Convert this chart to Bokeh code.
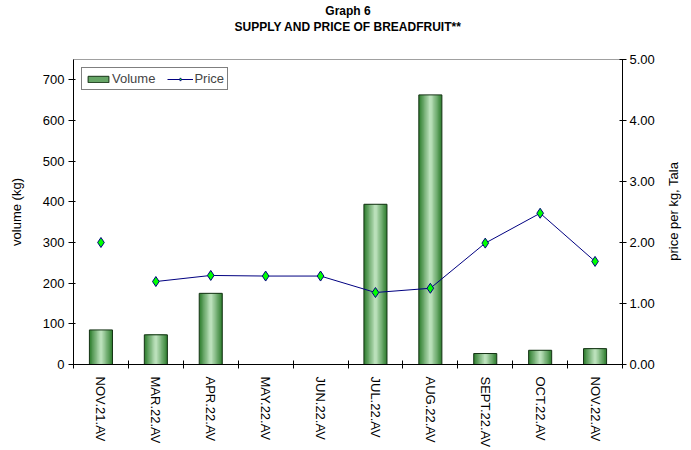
import numpy as np
from bokeh.plotting import figure
from bokeh.models import (Range1d, LinearAxis, FixedTicker, Title, Legend,
                          LegendItem, NumeralTickFormatter)
from bokeh.embed import file_html
from bokeh.resources import INLINE

# ---- data ----
months = ["NOV.21.AV", "MAR.22.AV", "APR.22.AV", "MAY.22.AV", "JUN.22.AV",
          "JUL.22.AV", "AUG.22.AV", "SEPT.22.AV", "OCT.22.AV", "NOV.22.AV"]
volume = [85, 73, 175, 0, 0, 394, 663, 27, 35, 39]
price = [2.00, 1.36, 1.46, 1.45, 1.45, 1.18, 1.25, 1.99, 2.48, 1.69]
volume_ticks = [0, 100, 200, 300, 400, 500, 600, 700]
price_ticks = [0, 1, 2, 3, 4, 5]

FONT = "Liberation Sans"
FS = "13px"
TFS = "12px"

n = len(months)
x = np.arange(n) + 0.5

p = figure(width=691, height=450, output_backend="svg", toolbar_location=None,
           x_range=Range1d(0, n), y_range=Range1d(0, 750),
           min_border_left=73, min_border_right=63, min_border_top=59,
           min_border_bottom=86)
p.background_fill_color = "white"
p.border_fill_color = "white"
p.outline_line_color = "#a0a0a0"
p.xgrid.visible = False
p.ygrid.visible = False

# titles
p.title.text = "Graph 6"
p.title.align = "center"
p.title.offset = 23
p.title.text_font = FONT
p.title.text_font_size = TFS
p.title.text_font_style = "bold"
p.title.text_color = "black"
p.title.standoff = 0
spacer = Title(text=" ", text_font_size="1px", standoff=23)
p.add_layout(spacer, "above")
t2 = Title(text="SUPPLY AND PRICE OF BREADFRUIT**", align="center", offset=23,
           text_font=FONT, text_font_size=TFS, text_font_style="bold",
           text_color="black", standoff=0)
p.add_layout(t2, "above")

# x axis
xa = p.xaxis[0]
xa.ticker = FixedTicker(ticks=list(x), minor_ticks=list(range(n + 1)))
xa.major_label_overrides = {float(xi): m for xi, m in zip(x, months)}
xa.major_tick_in = 0
xa.major_tick_out = 0
xa.minor_tick_in = 4
xa.minor_tick_out = 4
xa.minor_tick_line_color = "black"
xa.axis_line_color = "black"
xa.major_label_orientation = "vertical"
xa.major_label_text_font = FONT
xa.major_label_text_font_size = FS
xa.major_label_text_color = "black"
xa.major_label_standoff = 8

# left axis
ya = p.yaxis[0]
ya.ticker = FixedTicker(ticks=volume_ticks)
ya.axis_label = "volume (kg)"
ya.axis_label_text_font = FONT
ya.axis_label_text_font_size = FS
ya.axis_label_text_font_style = "normal"
ya.axis_label_text_color = "black"
ya.axis_label_standoff = 16
ya.major_label_text_font = FONT
ya.major_label_text_font_size = FS
ya.major_label_text_color = "black"
ya.major_tick_in = 2
ya.major_tick_out = 5
ya.minor_tick_line_color = None
ya.axis_line_color = "black"
ya.major_label_standoff = 4

# right axis
p.extra_y_ranges = {"price": Range1d(0, 5)}
ra = LinearAxis(y_range_name="price", ticker=FixedTicker(ticks=price_ticks),
                formatter=NumeralTickFormatter(format="0.00"))
ra.major_label_text_font = FONT
ra.major_label_text_font_size = FS
ra.major_label_text_color = "black"
ra.major_tick_in = 3
ra.major_tick_out = 4
ra.minor_tick_line_color = None
ra.axis_line_color = "black"
ra.major_label_standoff = 3
p.add_layout(ra, "right")

# right axis title (reads bottom-to-top), drawn as the single label of an
# outer, line-less axis so that it is not clipped
RIGHT_TITLE = "price per kg, Tala"
title_anchor = 1.70
rt = LinearAxis(y_range_name="price", ticker=FixedTicker(ticks=[title_anchor]),
                major_label_overrides={title_anchor: RIGHT_TITLE})
rt.major_label_orientation = np.pi / 2
rt.major_label_text_font = FONT
rt.major_label_text_font_size = FS
rt.major_label_text_color = "black"
rt.major_tick_in = 0
rt.major_tick_out = 0
rt.minor_tick_line_color = None
rt.axis_line_color = None
rt.major_label_standoff = 16
p.add_layout(rt, "right")

# bars with simulated gradient
layers = 9
widths = np.linspace(0.42, 0.05, layers)
dark = np.array([52, 130, 52])
light = np.array([186, 224, 186])
bar_renderers = []
for i, w in enumerate(widths):
    t = i / (layers - 1)
    c = tuple(int(v) for v in dark + (light - dark) * t)
    r = p.vbar(x=x, top=volume, bottom=0, width=w,
               fill_color="#%02x%02x%02x" % c, line_color=None)
    bar_renderers.append(r)
outline = p.vbar(x=x, top=volume, bottom=0, width=0.42, fill_color=None,
                 line_color="#143214", line_width=1)

# price line & markers
line = p.line(x[1:], price[1:], y_range_name="price", line_color="#000080",
              line_width=1)
pts = p.scatter(x, price, y_range_name="price", marker="diamond", size=10,
                fill_color="#00ff00", line_color="#000080", line_width=1)

legend = Legend(items=[
    LegendItem(label="Volume", renderers=[bar_renderers[3], outline]),
    LegendItem(label="Price", renderers=[line, pts]),
], location="top_left", orientation="horizontal")
legend.margin = 8
legend.border_line_color = "black"
legend.border_line_width = 1
legend.label_text_font = FONT
legend.label_text_font_size = FS
legend.glyph_width = 26
legend.glyph_height = 8
legend.padding = 3
legend.spacing = 12
legend.label_standoff = 1
legend.label_height = 12
p.add_layout(legend, "center")

open("out.html", "w").write(file_html(p, INLINE))
